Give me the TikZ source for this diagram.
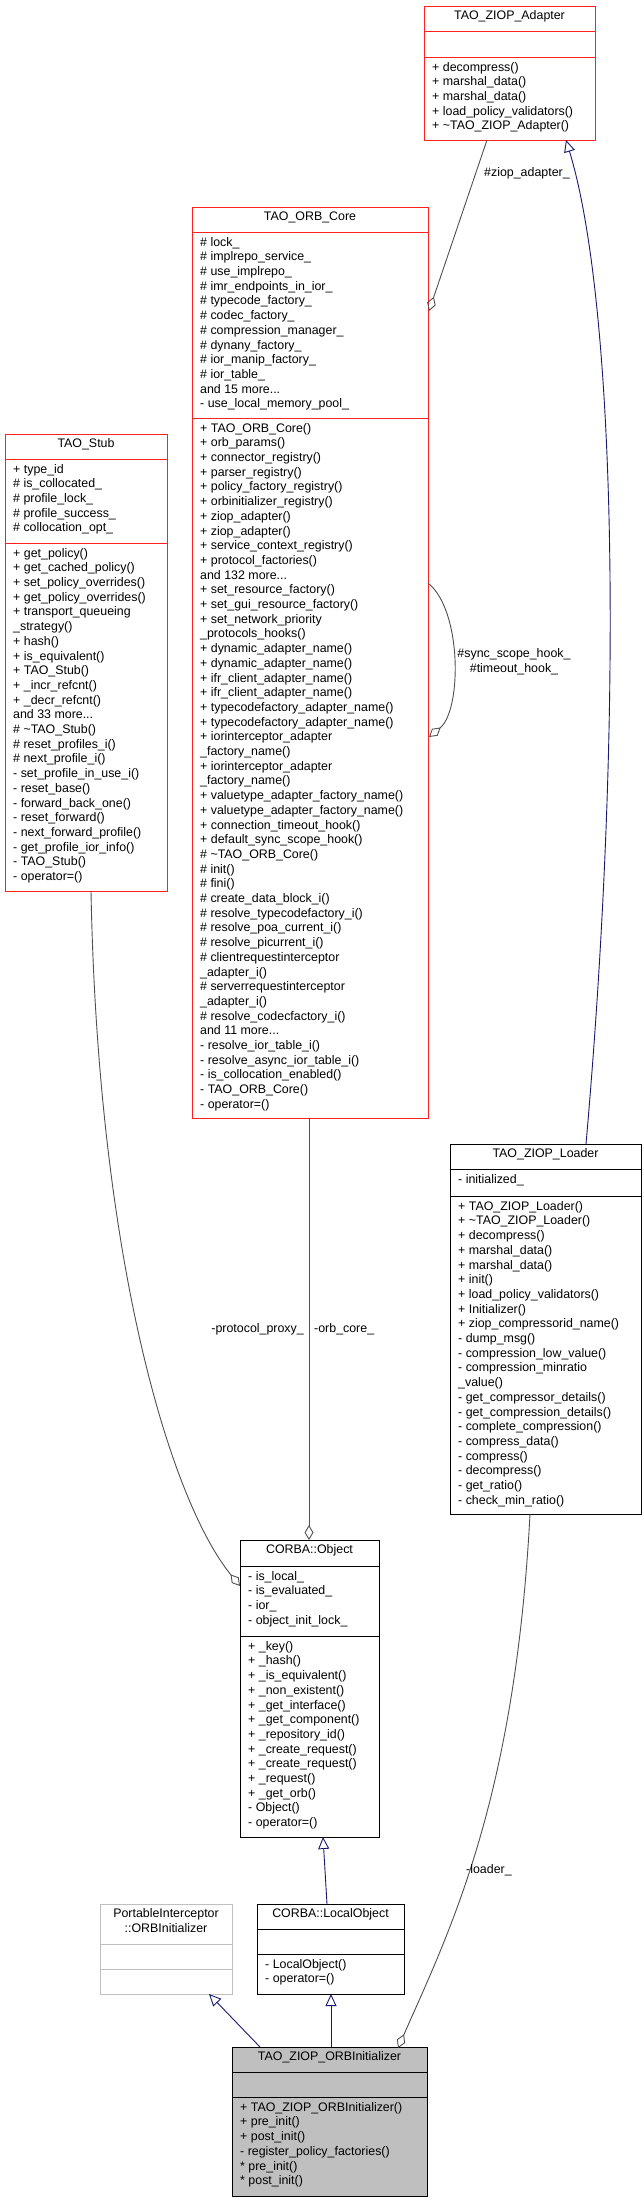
\documentclass[tikz,border=0pt]{standalone}
\usepackage{fontspec}
\setmainfont{Liberation Sans}
\usetikzlibrary{arrows.meta}
\definecolor{redb}{HTML}{FF2020}
\definecolor{inh}{HTML}{191970}
\definecolor{comp}{HTML}{505050}
\definecolor{grayb}{HTML}{BFBFBF}
\tikzset{
  txt/.style={inner sep=0pt, align=left, anchor=north west, font=\fontsize{12.4}{14.7}\selectfont},
  ttl/.style={inner sep=0pt, align=center, anchor=north, font=\fontsize{12.4}{14.7}\selectfont},
  inherit/.style={draw=inh, line width=0.9pt, -{Triangle[open,length=12pt,width=11pt]}},
  compo/.style={draw=comp, line width=0.9pt, -{Diamond[open,length=15pt,width=9pt]}},
  lbl/.style={font=\fontsize{12.4}{14.7}\selectfont, inner sep=0pt},
}
% name, x1,y1,x2,y2, sep1, sep2, draw style, title
\newcommand\umlbox[9]{%
  \node[draw, #8, line width=1pt, anchor=north west, inner sep=0pt,
        minimum width=#4-#2, minimum height=#5-#3] (#1) at (#2,#3) {};
  \draw[#8, line width=1pt] (#2,#6) -- (#4,#6);
  \draw[#8, line width=1pt] (#2,#7) -- (#4,#7);
  \node[ttl] at ({(#2+#4)/2},#3+4.5) {#9};}
\newcommand\umltext[3]{\node[txt] at (#1+8,#2+5) {#3};}
\begin{document}
\catcode`\_=12
\begin{tikzpicture}[x=1pt,y=-1pt]
\useasboundingbox (0,0) rectangle (644,2203);

% TAO_ZIOP_Adapter
\umlbox{adapter}{424}{6}{595}{140}{31}{57}{draw=redb}{TAO_ZIOP_Adapter}
\umltext{424}{57}{+ decompress()\\+ marshal_data()\\+ marshal_data()\\+ load_policy_validators()\\+ \textasciitilde TAO_ZIOP_Adapter()}

% TAO_ORB_Core
\umlbox{core}{192}{207}{428}{1118}{232}{418}{draw=redb}{TAO_ORB_Core}
\umltext{192}{232}{\# lock_\\\# implrepo_service_\\\# use_implrepo_\\\# imr_endpoints_in_ior_\\\# typecode_factory_\\\# codec_factory_\\\# compression_manager_\\\# dynany_factory_\\\# ior_manip_factory_\\\# ior_table_\\and 15 more...\\- use_local_memory_pool_}
\umltext{192}{418}{+ TAO_ORB_Core()\\+ orb_params()\\+ connector_registry()\\+ parser_registry()\\+ policy_factory_registry()\\+ orbinitializer_registry()\\+ ziop_adapter()\\+ ziop_adapter()\\+ service_context_registry()\\+ protocol_factories()\\and 132 more...\\+ set_resource_factory()\\+ set_gui_resource_factory()\\+ set_network_priority\\_protocols_hooks()\\+ dynamic_adapter_name()\\+ dynamic_adapter_name()\\+ ifr_client_adapter_name()\\+ ifr_client_adapter_name()\\+ typecodefactory_adapter_name()\\+ typecodefactory_adapter_name()\\+ iorinterceptor_adapter\\_factory_name()\\+ iorinterceptor_adapter\\_factory_name()\\+ valuetype_adapter_factory_name()\\+ valuetype_adapter_factory_name()\\+ connection_timeout_hook()\\+ default_sync_scope_hook()\\\# \textasciitilde TAO_ORB_Core()\\\# init()\\\# fini()\\\# create_data_block_i()\\\# resolve_typecodefactory_i()\\\# resolve_poa_current_i()\\\# resolve_picurrent_i()\\\# clientrequestinterceptor\\_adapter_i()\\\# serverrequestinterceptor\\_adapter_i()\\\# resolve_codecfactory_i()\\and 11 more...\\- resolve_ior_table_i()\\- resolve_async_ior_table_i()\\- is_collocation_enabled()\\- TAO_ORB_Core()\\- operator=()}

% TAO_Stub
\umlbox{stub}{5}{434}{167}{891}{459}{543}{draw=redb}{TAO_Stub}
\umltext{5}{459}{+ type_id\\\# is_collocated_\\\# profile_lock_\\\# profile_success_\\\# collocation_opt_}
\umltext{5}{543}{+ get_policy()\\+ get_cached_policy()\\+ set_policy_overrides()\\+ get_policy_overrides()\\+ transport_queueing\\_strategy()\\+ hash()\\+ is_equivalent()\\+ TAO_Stub()\\+ _incr_refcnt()\\+ _decr_refcnt()\\and 33 more...\\\# \textasciitilde TAO_Stub()\\\# reset_profiles_i()\\\# next_profile_i()\\- set_profile_in_use_i()\\- reset_base()\\- forward_back_one()\\- reset_forward()\\- next_forward_profile()\\- get_profile_ior_info()\\- TAO_Stub()\\- operator=()}

% TAO_ZIOP_Loader
\umlbox{loader}{450}{1144}{641}{1514}{1169}{1196}{draw=black}{TAO_ZIOP_Loader}
\umltext{450}{1169}{- initialized_}
\umltext{450}{1196}{+ TAO_ZIOP_Loader()\\+ \textasciitilde TAO_ZIOP_Loader()\\+ decompress()\\+ marshal_data()\\+ marshal_data()\\+ init()\\+ load_policy_validators()\\+ Initializer()\\+ ziop_compressorid_name()\\- dump_msg()\\- compression_low_value()\\- compression_minratio\\_value()\\- get_compressor_details()\\- get_compression_details()\\- complete_compression()\\- compress_data()\\- compress()\\- decompress()\\- get_ratio()\\- check_min_ratio()}

% CORBA::Object
\umlbox{obj}{240}{1540}{379}{1837}{1566}{1636}{draw=black}{CORBA::Object}
\umltext{240}{1566}{- is_local_\\- is_evaluated_\\- ior_\\- object_init_lock_}
\umltext{240}{1636}{+ _key()\\+ _hash()\\+ _is_equivalent()\\+ _non_existent()\\+ _get_interface()\\+ _get_component()\\+ _repository_id()\\+ _create_request()\\+ _create_request()\\+ _request()\\+ _get_orb()\\- Object()\\- operator=()}

% CORBA::LocalObject
\umlbox{local}{257}{1904}{404}{1994}{1929}{1954}{draw=black}{CORBA::LocalObject}
\umltext{257}{1954}{- LocalObject()\\- operator=()}

% PortableInterceptor::ORBInitializer
\umlbox{pi}{100}{1904}{232}{1994}{1944}{1969}{draw=grayb}{PortableInterceptor\\::ORBInitializer}

% TAO_ZIOP_ORBInitializer
\fill[grayb] (232,2047) rectangle (427,2196);
\umlbox{orbinit}{232}{2047}{427}{2196}{2072}{2097}{draw=black}{TAO_ZIOP_ORBInitializer}
\umltext{232}{2097}{+ TAO_ZIOP_ORBInitializer()\\+ pre_init()\\+ post_init()\\- register_policy_factories()\\* pre_init()\\* post_init()}

% connector end points
\coordinate (adapterB1) at (487,140);
\coordinate (adapterB2) at (566,140);
\coordinate (coreD) at (429,311);
\coordinate (loopA) at (428,583);
\coordinate (loopB) at (429,737);
\coordinate (loaderT) at (586,1144);
\coordinate (loaderB) at (530,1514);
\coordinate (coreB) at (309,1118);
\coordinate (objT) at (309,1540);
\coordinate (stubB) at (91,891);
\coordinate (objL) at (240,1586);
\coordinate (objB) at (323,1837);
\coordinate (localT) at (327,1904);
\coordinate (localB) at (331,1994);
\coordinate (oiT1) at (331,2047);
\coordinate (oiT2) at (260,2047);
\coordinate (piB) at (209,1994);
\coordinate (oiT3) at (398,2048);

\draw[compo] (adapterB1) -- (coreD);
\node[lbl, anchor=west] (lz) at (484,173) {\#ziop_adapter_};
\draw[inherit] (loaderT) .. controls (625,700) and (615,300) .. (adapterB2);
\draw[compo] (loopA) .. controls (462,610) and (462,710) .. (loopB);
\node[lbl, align=center] (lsync) at (514,662) {\#sync_scope_hook_\\\#timeout_hook_};
\draw[compo] (coreB) -- (objT);
\node[lbl, anchor=west] (lcore) at (314,1329) {-orb_core_};
\draw[compo] (stubB) .. controls (98,1260) and (170,1500) .. (objL);
\node[lbl, anchor=east] (lproxy) at (304,1329) {-protocol_proxy_};
\draw[inherit] (localT) -- (objB);
\draw[inherit] (oiT1) -- (localB);
\draw[inherit] (oiT2) -- (piB);
\draw[compo] (loaderB) .. controls (515,1800) and (450,1930) .. (oiT3);
\node[lbl, anchor=west] (lloader) at (466,1870) {-loader_};
\end{tikzpicture}
\end{document}
